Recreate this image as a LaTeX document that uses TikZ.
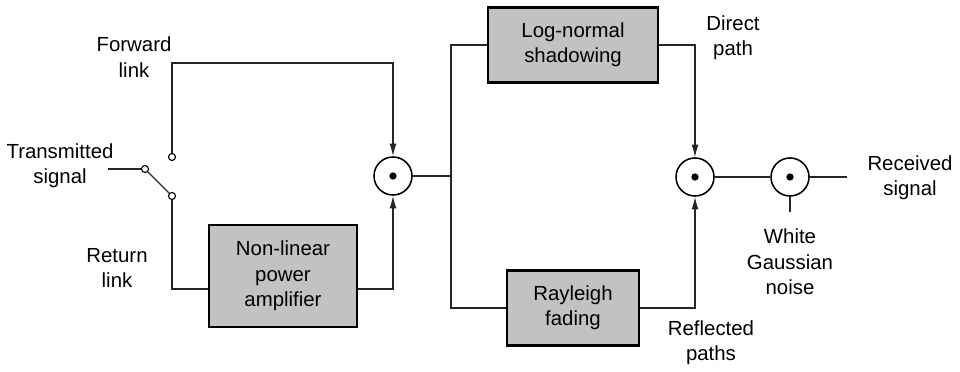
\documentclass[tikz,border=0pt]{standalone}
\usepackage{fontspec}
\setmainfont{Liberation Sans}
\usetikzlibrary{positioning,arrows.meta,calc}

\begin{document}
\begin{tikzpicture}[
    x=0.025cm, y=-0.025cm,
    font=\fontsize{14.5}{18}\selectfont,
    >={Latex[length=9pt,width=5pt]},
    wire/.style={line width=0.9pt, draw=black!85},
    flow/.style={wire, ->},
    block/.style={
        draw=black,
        fill=black!24,
        line width=1.5pt,
        align=center,
        inner sep=2pt
    },
    mixer/.style={
        circle,
        draw=black,
        line width=1.1pt,
        minimum size=0.95cm,
        inner sep=0pt,
        path picture={\fill (path picture bounding box.center) circle (2.6pt);}
    },
    contact/.style={circle, draw=black, line width=0.8pt, fill=white, minimum size=5pt, inner sep=0pt},
    caption/.style={align=center, inner sep=0pt}
]
\useasboundingbox (0,0) rectangle (960,372);

% switch
\coordinate (xin) at (108,169);
\node[contact] (pivot) at (145,169) {};
\node[contact] (cfwd) at (172,157) {};
\node[contact] (cret) at (172,196) {};
\coordinate (fwdcorner) at (393,63);

% blocks
\node[block, minimum width=3.7cm, minimum height=2.55cm] (npa) at (283,276) {Non-linear\\power\\amplifier};
\node[block, minimum width=4.25cm, minimum height=1.875cm] (lognorm) at (573,45) {Log-normal\\shadowing};
\node[block, minimum width=3.3cm, minimum height=1.875cm] (rayleigh) at (573,308) {Rayleigh\\fading};

% combiners
\node[mixer] (mix1) at (393,176) {};
\node[mixer] (mix2) at (695,177) {};
\node[mixer] (awgn) at (790,177) {};
\coordinate (split) at (451,176);
\coordinate (rxend) at (847,177);
\coordinate (noiseend) at (790,212);

% labels
\node[caption] (txlabel) at (60,166) {Transmitted\\signal};
\node[caption] (fwdlabel) at (134,57) {Forward\\link};
\node[caption] (retlabel) at (117,268) {Return\\link};
\node[caption] (directlabel) at (733,38) {Direct\\path};
\node[caption] (reflabel) at (711,343) {Reflected\\paths};
\node[caption] (rxlabel) at (910,178) {Received\\signal};
\node[caption] (noiselabel) at (790,262) {White\\Gaussian\\noise};

% connections
\draw[wire] (xin) -- (pivot);
\draw[wire] (pivot) -- (cret);
\draw[flow] (cfwd) |- (fwdcorner) -- (mix1);
\draw[wire] (cret) |- ([yshift=-0.325cm]npa.west);
\draw[flow] ([yshift=-0.325cm]npa.east) -| (mix1);
\draw[wire] (mix1) -- (split);
\draw[wire] (lognorm.west) -| (split) |- (rayleigh.west);
\draw[flow] (lognorm.east) -| (mix2);
\draw[flow] (rayleigh.east) -| (mix2);
\draw[wire] (mix2) -- (awgn);
\draw[wire] (awgn) -- (rxend);
\draw[wire] (awgn) -- (noiseend);
\end{tikzpicture}
\end{document}
